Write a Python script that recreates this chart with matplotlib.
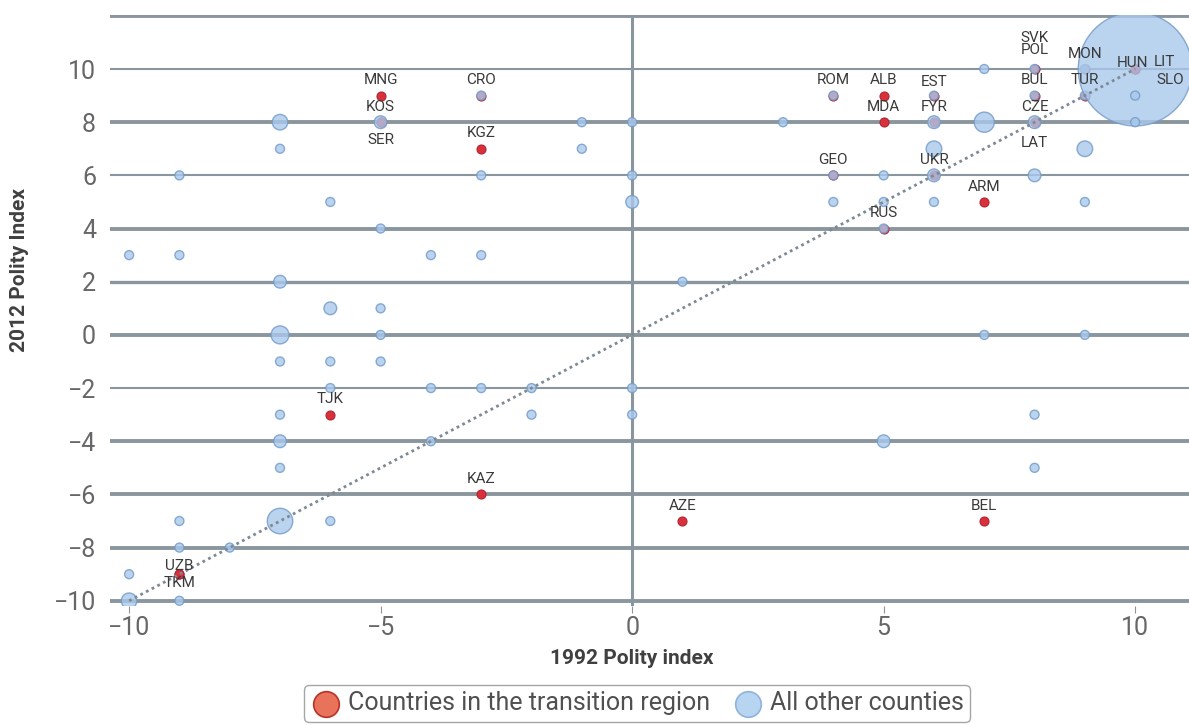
import matplotlib.pyplot as plt
import numpy as np

plt.rcParams['font.family'] = ['Liberation Sans Narrow', 'Roboto', 'DejaVu Sans']

# Paises da regiao de transicao (1992, 2012)
trans_names = ['MNG', 'KOS', 'SER', 'CRO', 'KGZ', 'TJK', 'KAZ', 'UZB', 'TKM', 'AZE', 'BEL',
               'ROM', 'ALB', 'MDA', 'EST', 'FYR', 'GEO', 'UKR', 'ARM', 'RUS',
               'SVK\nPOL', 'BUL', 'CZE', 'LAT', 'MON', 'TUR', 'HUN', 'LIT', 'SLO']
trans_x = [-5, -5, -5, -3, -3, -6, -3, -9, -9, 1, 7,
           4, 5, 5, 6, 6, 4, 6, 7, 5,
           8, 8, 8, 8, 9, 9, 10, 10, 10]
trans_y = [9, 8, 8, 9, 7, -3, -6, -9, -9, -7, -7,
           9, 9, 8, 9, 8, 6, 6, 5, 4,
           10, 9, 8, 8, 10, 9, 10, 10, 10]

# Todos os outros paises: posicao e peso da bolha
other_x = [-10, -9, -9, -7, -7, -6, -5, -4, -7, -6, -5, -7, -5, -7, -6, -5, -6, -4, -7, -7,
           -4, -7, -7, -6, -9, -9, -8, -10, -10, -9,
           -5, -3, -3, -3, -3, -2, -2, -1, -1, 0, 0, 0, 0, 0, 1, 3,
           4, 4, 4, 5, 5, 5, 5, 6, 6, 6, 6, 6, 7, 7, 7, 8, 8, 8, 8, 8, 8,
           9, 9, 9, 9, 9, 10, 10, 10]
other_y = [3, 6, 3, 8, 7, 5, 4, 3, 2, 1, 1, 0, 0, -1, -1, -1, -2, -2, -3, -4,
           -4, -5, -7, -7, -7, -8, -8, -9, -10, -10,
           8, 9, 6, 3, -2, -2, -3, 8, 7, 8, 6, 5, -2, -3, 2, 8,
           9, 6, 5, 6, 5, 4, -4, 9, 8, 7, 6, 5, 10, 8, 0, 10, 9, 8, 6, -3, -5,
           10, 9, 7, 5, 0, 10, 9, 8]
other_w = [1, 1, 1, 3, 1, 1, 1, 1, 2, 2, 1, 4, 1, 1, 1, 1, 1, 1, 1, 2,
           1, 1, 8, 1, 1, 1, 1, 1, 3, 1,
           2, 1, 1, 1, 1, 1, 1, 1, 1, 1, 1, 2, 1, 1, 1, 1,
           1, 1, 1, 1, 1, 1, 2, 1, 2, 3, 2, 1, 1, 5, 1, 1, 1, 2, 2, 1, 1,
           1, 1, 3, 1, 1, 160, 1, 1]

# onde fica cada rotulo (em pontos)
label_offset = {'SER': (0, -13), 'TKM': (0, -6), 'UZB': (0, 6), 'LAT': (0, -15),
                'HUN': (-2, 4), 'LIT': (21, 5), 'SLO': (25, -8), 'SVK\nPOL': (0, 18),
                'EST': (0, 10)}

fig = plt.figure(figsize=(11.89, 7.25), dpi=100)
ax = fig.add_axes([0.0925, 0.164, 0.9075, 0.816])

grid_gray = '#8a969e'
thick = {12: 2.8, 10: 1.5, 8: 2.8, 6: 1.5, 4: 2.8, 2: 2.4, 0: 2.8, -2: 1.5,
         -4: 2.8, -6: 2.8, -8: 2.8, -10: 2.8}
for yv, lw in thick.items():
    ax.axhline(yv, color=grid_gray, linewidth=lw, zorder=1)
ax.axvline(0, color=grid_gray, linewidth=2.2, zorder=1)

# pontos vermelhos primeiro, bolhas azuis por cima
ax.scatter(trans_x, trans_y, s=42, color='#d8313c', edgecolors='#b22430',
           linewidths=0.8, zorder=3)
ax.scatter(other_x, other_y, s=np.array(other_w) * 42, color='#a9c9ec',
           edgecolors='#7199c8', linewidths=1.0, alpha=0.8, zorder=4)

ax.plot([-10, 10], [-10, 10], linestyle=(0, (1, 1.3)), color='#7d8a94',
        linewidth=2, zorder=5)

for name, x, y in zip(trans_names, trans_x, trans_y):
    dx, dy = label_offset.get(name, (0, 11))
    ax.annotate(name, (x, y), xytext=(dx, dy), textcoords='offset points',
                ha='center', va='center', fontsize=11, color='#3a3a3a',
                linespacing=0.85, zorder=6)

ax.set_xlim(-10.38, 11.07)
ax.set_ylim(-10.2, 12.05)
ax.set_xticks([-10, -5, 0, 5, 10])
ax.set_yticks(range(-10, 11, 2))
ax.tick_params(axis='x', length=5, color=grid_gray, labelsize=18, labelcolor='#676767', pad=2)
ax.tick_params(axis='y', length=0, labelsize=18, labelcolor='#676767', pad=10)
for sp in ax.spines.values():
    sp.set_visible(False)

ax.set_xlabel('1992 Polity index', fontsize=15, fontweight='bold', color='#404040')
ax.xaxis.set_label_coords(0.484, -0.072)
ax.set_ylabel('2012 Polity Index', fontsize=15, fontweight='bold', color='#404040')
ax.yaxis.set_label_coords(-0.075, 0.568)

h1 = ax.scatter([], [], s=340, color='#e8735a', edgecolors='#b8322a', linewidths=1.2)
h2 = ax.scatter([], [], s=340, color='#b7d4f1', edgecolors='#8fb3dc', linewidths=1.2)
leg = fig.legend([h1, h2], ['Countries in the transition region', 'All other counties'],
                 loc='center', bbox_to_anchor=(0.536, 0.030), ncol=2, fontsize=18,
                 frameon=True, fancybox=True, edgecolor='#909090', handletextpad=0.3,
                 columnspacing=0.9, borderpad=0.25, handlelength=1.2)
for t in leg.get_texts():
    t.set_color('#505050')

fig.savefig('out.png', dpi=100)
